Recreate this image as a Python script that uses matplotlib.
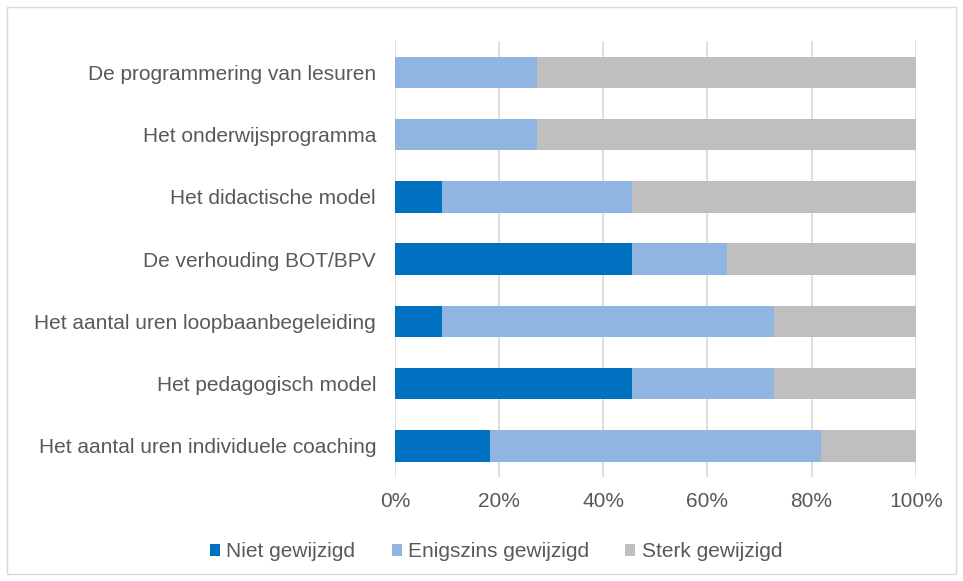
import matplotlib.pyplot as plt
import numpy as np
from matplotlib.patches import Rectangle

plt.rcParams['font.family'] = ['Liberation Sans', 'DejaVu Sans']

# Dados (fracao de respondentes, n=11)
categorias = [
    "De programmering van lesuren",
    "Het onderwijsprogramma",
    "Het didactische model",
    "De verhouding BOT/BPV",
    "Het aantal uren loopbaanbegeleiding",
    "Het pedagogisch model",
    "Het aantal uren individuele coaching",
]
niet = [0.0, 0.0, 9.1, 45.5, 9.1, 45.5, 18.2]
enigszins = [27.3, 27.3, 36.4, 18.2, 63.6, 27.3, 63.6]
sterk = [72.7, 72.7, 54.5, 36.3, 27.3, 27.2, 18.2]
series = ["Niet gewijzigd", "Enigszins gewijzigd", "Sterk gewijzigd"]
kleuren = ['#0070C0', '#8FB5E0', '#BFBFBF']
ticks = [0, 20, 40, 60, 80, 100]

tekst = '#595959'
fs = 15

fig = plt.figure(figsize=(9.63, 5.81), dpi=100)
ax = fig.add_axes([0.41, 0.179, 0.541, 0.75])

y = np.arange(len(categorias))
links = np.zeros(len(categorias))
for waarden, naam, kleur in zip([niet, enigszins, sterk], series, kleuren):
    ax.barh(y, waarden, left=links, height=0.51, color=kleur, label=naam, zorder=3)
    links += np.array(waarden)

ax.set_ylim(len(categorias) - 0.5, -0.5)
ax.set_xlim(0, 100)
ax.set_yticks(y)
ax.set_yticklabels(categorias, fontsize=fs, color=tekst)
ax.set_xticks(ticks)
ax.set_xticklabels([f"{t}%" for t in ticks], fontsize=fs, color=tekst)
ax.tick_params(axis='y', length=0, pad=13.5)
ax.tick_params(axis='x', length=0, pad=11)
ax.grid(axis='x', color='#D9D9D9', linewidth=1.2, zorder=0)
for s in ax.spines.values():
    s.set_visible(False)

leg = fig.legend(loc='center', bbox_to_anchor=(0.515, 0.05), ncol=3, frameon=False,
                 fontsize=fs, handlelength=0.48, handleheight=0.48, handletextpad=0.3,
                 columnspacing=1.75)
for t in leg.get_texts():
    t.set_color(tekst)

# Moldura externa
fig.patches.append(Rectangle((0.007, 0.012), 0.986, 0.976, transform=fig.transFigure,
                             fill=False, edgecolor='#D9D9D9', linewidth=1))

plt.savefig("out.png", dpi=100)
